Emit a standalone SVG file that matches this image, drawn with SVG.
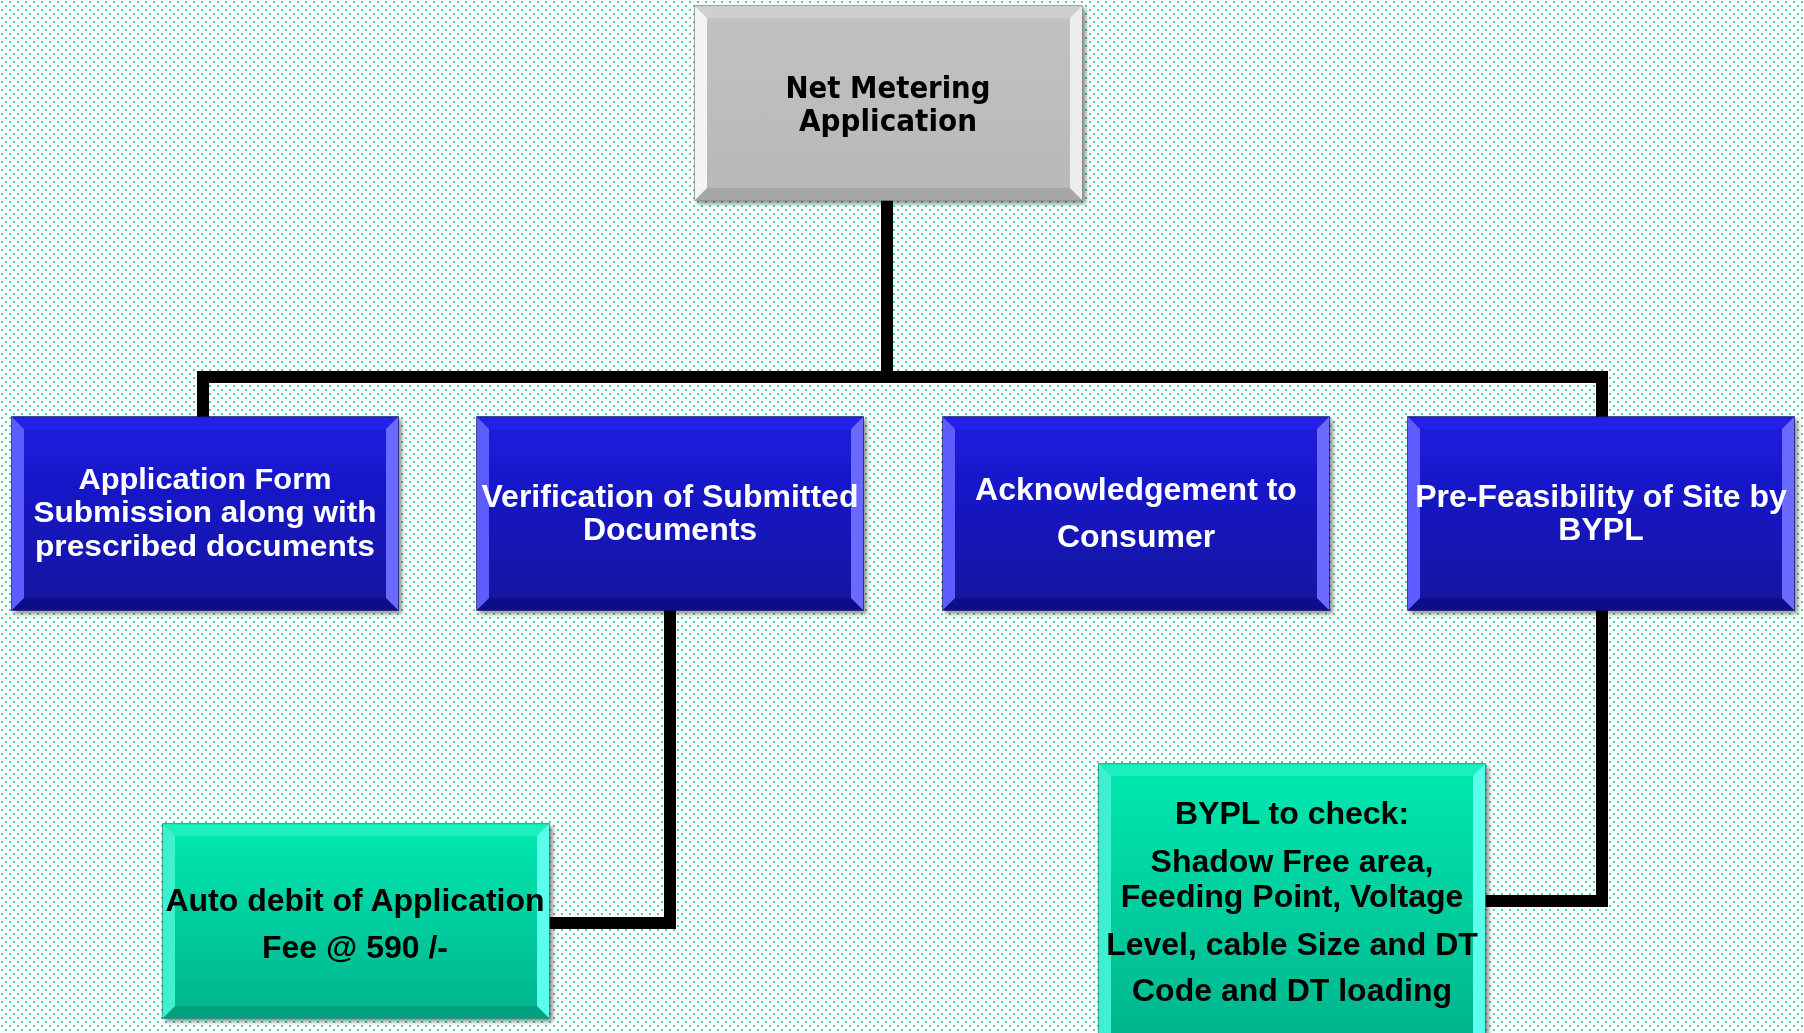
<svg xmlns="http://www.w3.org/2000/svg" xmlns:xlink="http://www.w3.org/1999/xlink" width="1804" height="1033" viewBox="0 0 1804 1033">
<style>
.wt{font-family:"Liberation Sans",Arial,sans-serif;font-weight:bold;font-size:32px;fill:#ffffff;text-anchor:middle}
.ws{font-size:29px}
.bt{font-family:"Liberation Sans",Arial,sans-serif;font-weight:bold;font-size:32px;fill:#000000;text-anchor:middle}
.tt{font-family:"DejaVu Sans",Verdana,sans-serif;font-weight:bold;font-size:30px;fill:#000000;text-anchor:middle}
.conn{fill:none;stroke:#000;stroke-width:12;stroke-linejoin:miter}
</style>
<defs>
<pattern id="dots" width="8" height="8" patternUnits="userSpaceOnUse">
<rect width="8" height="8" fill="#ffffff"/>
<rect x="1" y="1" width="2" height="2" fill="#3dd9a8"/>
<rect x="5" y="5" width="2" height="2" fill="#3dd9a8"/>
</pattern>
<linearGradient id="gBlue" x1="0" y1="0" x2="0" y2="1">
<stop offset="0" stop-color="#1c1ce0"/>
<stop offset="1" stop-color="#12129e"/>
</linearGradient>
<linearGradient id="gGrey" x1="0" y1="0" x2="0" y2="1">
<stop offset="0" stop-color="#c2c2c2"/>
<stop offset="1" stop-color="#b8b8b8"/>
</linearGradient>
<linearGradient id="gGreen" x1="0" y1="0" x2="0" y2="1">
<stop offset="0" stop-color="#00eab0"/>
<stop offset="1" stop-color="#00b38c"/>
</linearGradient>
<filter id="sh" x="-5%" y="-5%" width="115%" height="115%">
<feDropShadow dx="3" dy="3" stdDeviation="2" flood-color="#000" flood-opacity="0.45"/>
</filter>
<g id="blueBox">
<rect width="386" height="193" fill="url(#gBlue)" stroke="#0a0a70" stroke-width="1.5"/>
<polygon points="0,0 386,0 374,12 12,12" fill="#2424e8" opacity="0.8"/>
<polygon points="0,193 386,193 374,181 12,181" fill="#0e0e8a"/>
<polygon points="0,0 12,12 12,181 0,193" fill="#5c5cff"/>
<polygon points="386,0 374,12 374,181 386,193" fill="#6a6aff"/>
</g>
<g id="greenBox">
<rect width="386" height="194" fill="url(#gGreen)" stroke="#009070" stroke-width="1.5"/>
<polygon points="0,0 386,0 374,12 12,12" fill="#20f2c0" opacity="0.8"/>
<polygon points="0,194 386,194 374,182 12,182" fill="#00a07c"/>
<polygon points="0,0 12,12 12,182 0,194" fill="#40f0d0"/>
<polygon points="386,0 374,12 374,182 386,194" fill="#5cffee"/>
</g>
</defs>
<rect width="1804" height="1033" fill="url(#dots)"/>
<g id="connectors">
<path class="conn" d="M887,200 V377"/>
<path class="conn" d="M203,417 V377 H1602 V417"/>
<path class="conn" d="M670,610 V923 H549"/>
<path class="conn" d="M1602,610 V901 H1485"/>
</g>
<g id="n0" filter="url(#sh)">
<rect x="695" y="6" width="387" height="194" fill="url(#gGrey)" stroke="#8a8a8a" stroke-width="1.5"/>
<polygon points="695,6 1082,6 1070,18 707,18" fill="#cfcfcf"/>
<polygon points="695,200 1082,200 1070,188 707,188" fill="#a6a6a6"/>
<polygon points="695,6 707,18 707,188 695,200" fill="#f4f4f4"/>
<polygon points="1082,6 1070,18 1070,188 1082,200" fill="#ececec"/>
<text class="tt" x="888" y="98" textLength="205" lengthAdjust="spacingAndGlyphs">Net Metering</text>
<text class="tt" x="888" y="131" textLength="178" lengthAdjust="spacingAndGlyphs">Application</text>
</g>
<g id="n1" filter="url(#sh)">
<use xlink:href="#blueBox" x="12" y="417"/>
<text class="wt ws" x="205" y="489" textLength="253" lengthAdjust="spacingAndGlyphs">Application Form</text>
<text class="wt ws" x="205" y="522" textLength="343" lengthAdjust="spacingAndGlyphs">Submission along with</text>
<text class="wt ws" x="205" y="556" textLength="340" lengthAdjust="spacingAndGlyphs">prescribed documents</text>
</g>
<g id="n2" filter="url(#sh)">
<use xlink:href="#blueBox" x="477" y="417"/>
<text class="wt" x="670" y="507">Verification of Submitted</text>
<text class="wt" x="670" y="540">Documents</text>
</g>
<g id="n3" filter="url(#sh)">
<use xlink:href="#blueBox" x="943" y="417"/>
<text class="wt" x="1136" y="500">Acknowledgement to</text>
<text class="wt" x="1136" y="547">Consumer</text>
</g>
<g id="n4" filter="url(#sh)">
<use xlink:href="#blueBox" x="1408" y="417"/>
<text class="wt" x="1601" y="507">Pre-Feasibility of Site by</text>
<text class="wt" x="1601" y="540">BYPL</text>
</g>
<g id="n5" filter="url(#sh)">
<use xlink:href="#greenBox" x="163" y="824"/>
<text class="bt" x="355" y="911">Auto debit of Application</text>
<text class="bt" x="355" y="958">Fee @ 590 /-</text>
</g>
<g id="n6" filter="url(#sh)">
<rect x="1099" y="764" width="386" height="282" fill="url(#gGreen)" stroke="#009070" stroke-width="1.5"/>
<polygon points="1099,764 1485,764 1473,776 1111,776" fill="#20f2c0" opacity="0.8"/>
<polygon points="1099,764 1111,776 1111,1034 1099,1046" fill="#40f0d0"/>
<polygon points="1485,764 1473,776 1473,1034 1485,1046" fill="#5cffee"/>
<text class="bt" x="1292" y="824">BYPL to check:</text>
<text class="bt" x="1292" y="872">Shadow Free area,</text>
<text class="bt" x="1292" y="907">Feeding Point, Voltage</text>
<text class="bt" x="1292" y="955">Level, cable Size and DT</text>
<text class="bt" x="1292" y="1001">Code and DT loading</text>
</g>
</svg>
